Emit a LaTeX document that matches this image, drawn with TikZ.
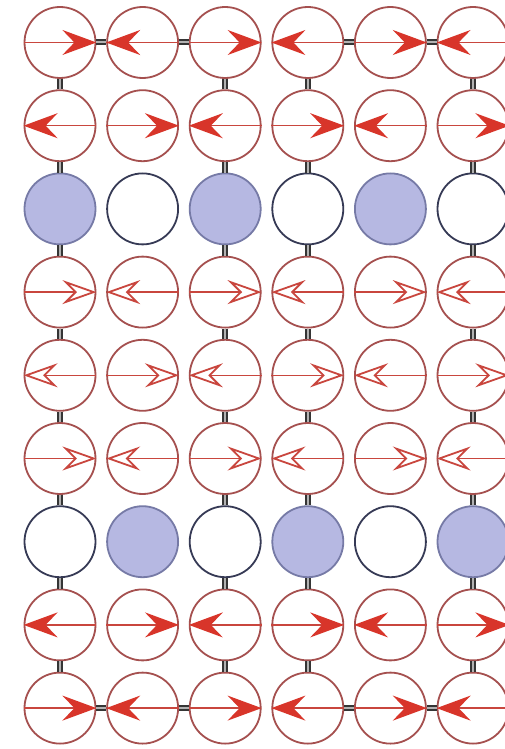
\documentclass[tikz,border=0pt]{standalone}
\usepackage{xcolor}
\usepackage{tikz}
\usetikzlibrary{arrows.meta}
\definecolor{RingRed}{HTML}{A5504F}
\definecolor{SpinRed}{HTML}{C9463E}
\definecolor{HeadRed}{HTML}{D8352A}
\definecolor{HoleBlue}{HTML}{B6B8E2}
\definecolor{HoleEdge}{HTML}{767AA6}
\definecolor{VoidEdge}{HTML}{363A55}
\definecolor{BondDark}{HTML}{353535}

\begin{document}
\begin{tikzpicture}[
  x=1pt, y=-1pt,
  ring/.style={circle,draw=RingRed,line width=1.8pt,fill=white,minimum size=71pt,inner sep=0pt},
  dotfull/.style={ring,draw=HoleEdge,fill=HoleBlue},
  dotempty/.style={ring,draw=VoidEdge,fill=white},
  solidspin/.style={draw=SpinRed,line width=1.5pt,
    -{Stealth[length=34pt,width=25pt,inset=12pt,color=HeadRed,fill=HeadRed]}},
  openspin/.style={draw=SpinRed,line width=1.5pt,
    -{Stealth[length=34pt,width=24pt,inset=12pt,fill=white,line width=1.8pt]}},
  bond/.style={draw=BondDark,line width=2pt,double=gray!60,double distance=2pt}
]
  \useasboundingbox[fill=white] (0,0) rectangle (504,749);

  % spin rows
  \foreach \r/\kind/\s in {0/solidspin/1,1/solidspin/-1,3/openspin/1,4/openspin/-1,
                           5/openspin/1,7/solidspin/-1,8/solidspin/1}
    \foreach \c in {0,...,5} {
      \pgfmathtruncatemacro\d{\s*(1-2*mod(\c,2))}
      \node[ring] (n\r-\c) at ({60+82.6*\c},{42.5+83.2*\r}) {};
      \ifnum\d>0
        \draw[\kind] (n\r-\c.west) -- (n\r-\c.east);
      \else
        \draw[\kind] (n\r-\c.east) -- (n\r-\c.west);
      \fi
    }

  % hole rows
  \foreach \r/\s in {2/1,6/-1}
    \foreach \c in {0,...,5} {
      \pgfmathtruncatemacro\d{\s*(1-2*mod(\c,2))}
      \ifnum\d>0 \def\st{dotfull}\else \def\st{dotempty}\fi
      \node[\st] (n\r-\c) at ({60+82.6*\c},{42.5+83.2*\r}) {};
    }

  % bonds
  \foreach \r [evaluate=\r as \rr using int(\r+1)] in {0,...,7}
    \foreach \c in {0,2,3,5}
      \draw[bond] (n\r-\c.south) -- (n\rr-\c.north);
  \foreach \r in {0,8}
    \foreach \a/\b in {0/1,1/2,3/4,4/5}
      \draw[bond] (n\r-\a.east) -- (n\r-\b.west);
\end{tikzpicture}
\end{document}
